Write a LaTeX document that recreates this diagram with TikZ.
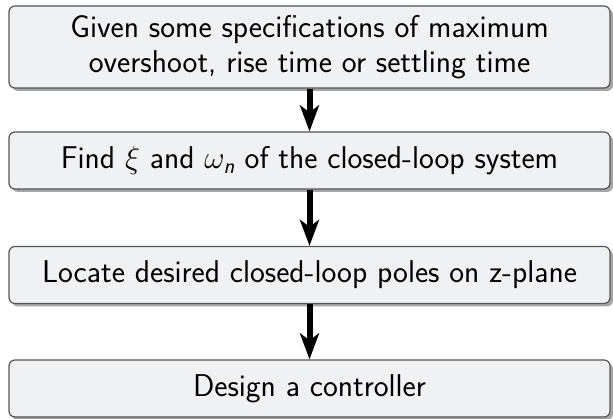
\RequirePackage{fix-cm}
\documentclass[tikz,border=0pt]{standalone}
\usepackage{amsmath}
\usepackage{tikz}
\usetikzlibrary{arrows.meta,shadows}

\definecolor{boxfill}{RGB}{240,241,243}
\definecolor{boxline}{RGB}{85,85,85}

\begin{document}
\begin{tikzpicture}[x=1pt, y=1pt,
    stepbox/.style={draw=boxline, fill=boxfill, rounded corners=6pt, line width=1.2pt,
      minimum width=601pt, minimum height=57pt, align=center, inner sep=2pt,
      font=\fontsize{31.5}{35}\selectfont\sffamily,
      drop shadow={shadow xshift=3pt, shadow yshift=-3pt, fill=black!35, opacity=1}},
    flow/.style={-{Stealth[length=26pt, width=19pt, inset=7pt]}, line width=6pt}]
    \useasboundingbox (0,0) rectangle (613,-419);

    % Steps of the design, top to bottom
    \node[stepbox, minimum height=82pt] (s1) at (309.5,-47)
      {Given some specifications of maximum\\overshoot, rise time or settling time};
    \node[stepbox] (s2) at (309.5,-160.5)
      {Find $\xi$ and $\omega_{\textsf{\textit{n}}}$ of the closed-loop system};
    \node[stepbox] (s3) at (309.5,-275) {Locate desired closed-loop poles on z-plane};
    \node[stepbox] (s4) at (309.5,-388.5) {Design a controller};

    % Arrows between the steps
    \foreach \i/\j in {1/2,2/3,3/4} {
      \draw[flow] (s\i.south) -- (s\j.north);
    }
\end{tikzpicture}
\end{document}
